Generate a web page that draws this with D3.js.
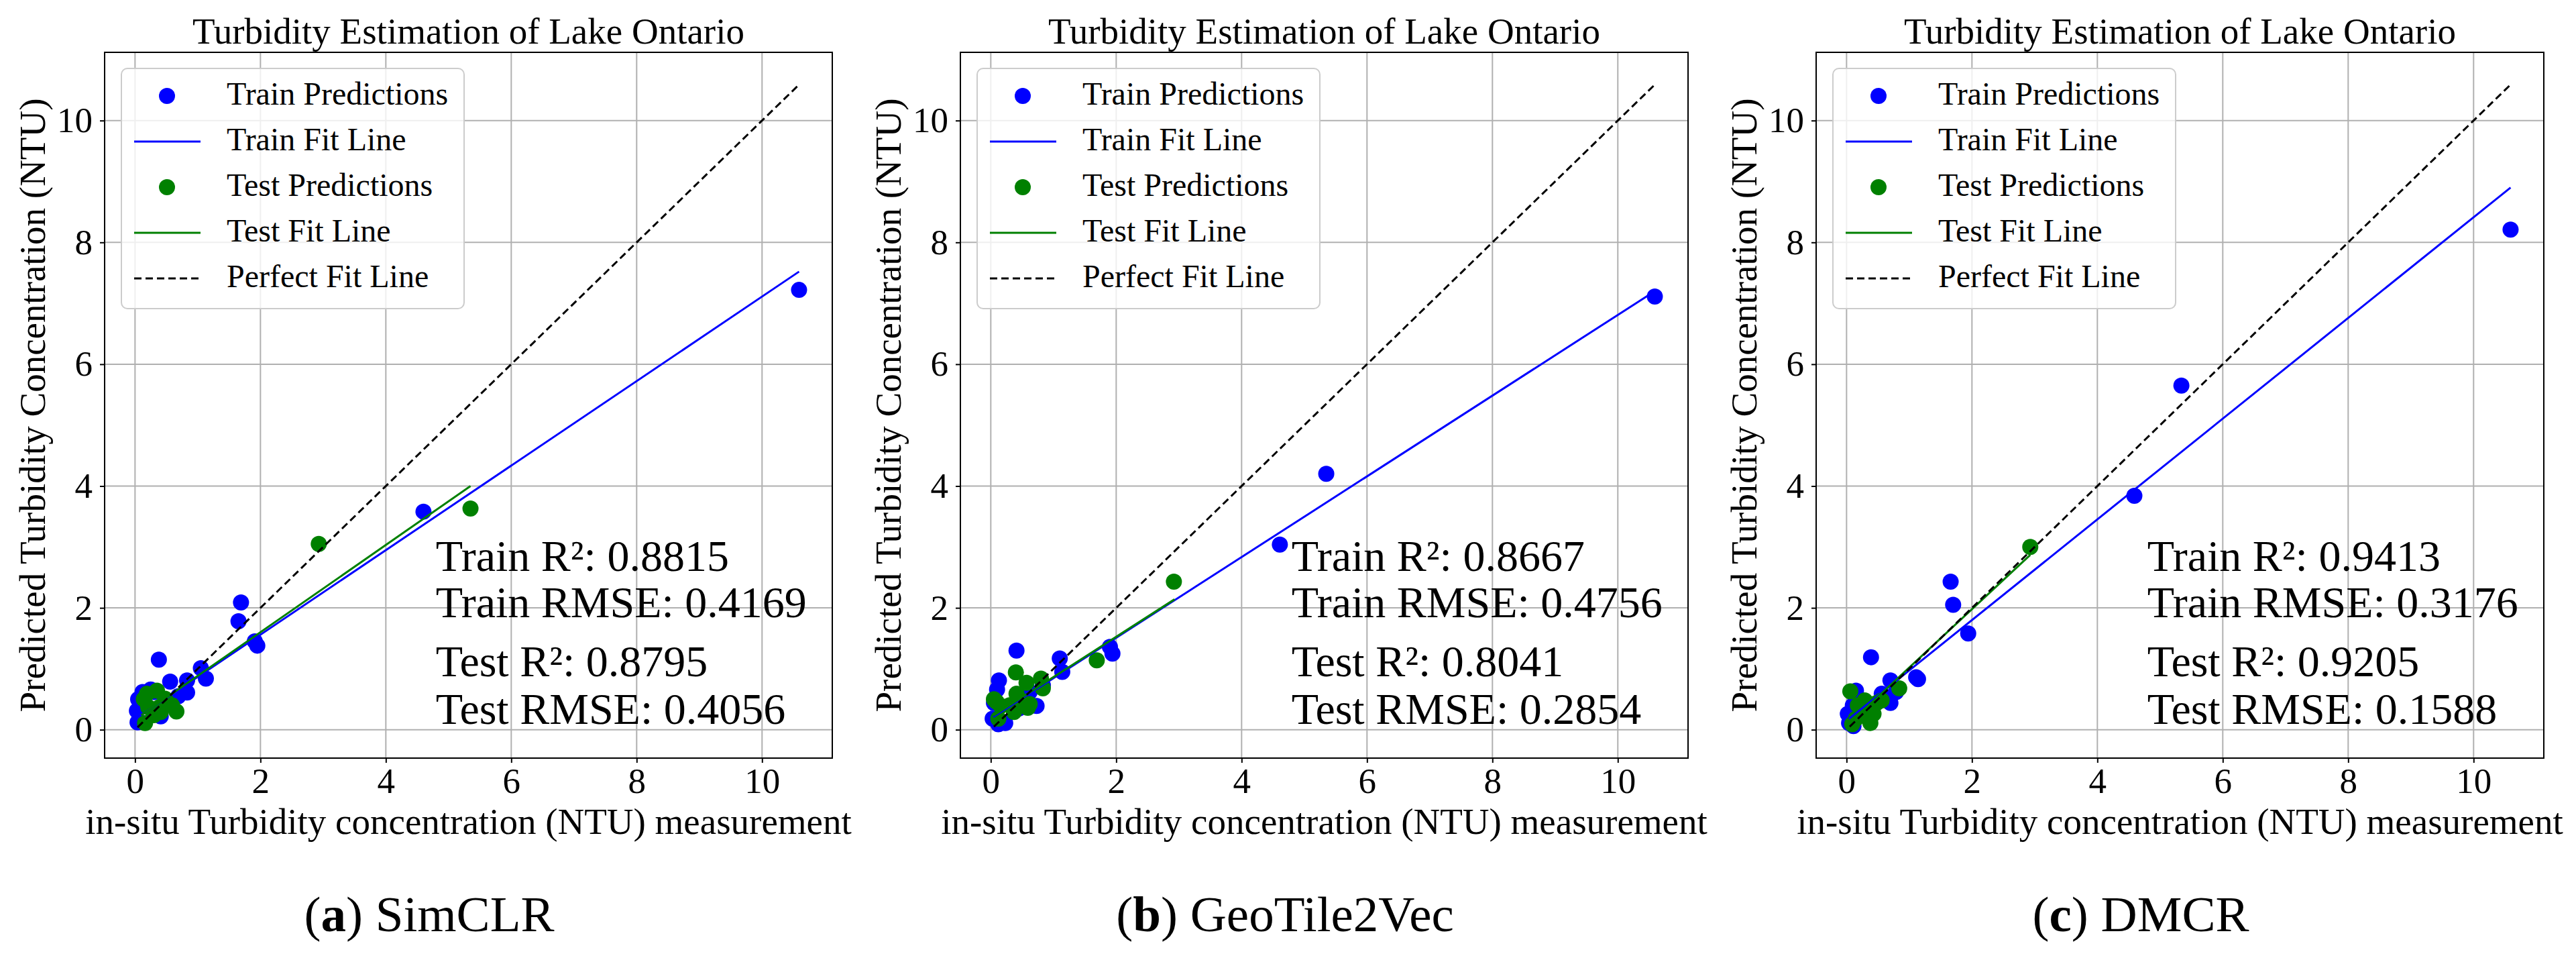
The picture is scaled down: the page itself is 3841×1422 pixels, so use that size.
<!DOCTYPE html>
<html>
<head>
<meta charset="utf-8">
<script src="https://cdn.jsdelivr.net/npm/d3@7"></script>
<style>
  body { margin: 0; background: #fff; }
  svg text { font-family: "Liberation Serif", "Times New Roman", serif !important; fill: #000; }
</style>
</head>
<body>
<script>
// ---- data ----
const xTicks = [0, 2, 4, 6, 8, 10];
const yTicks = [0, 2, 4, 6, 8, 10];
const panelTitle = "Turbidity Estimation of Lake Ontario";
const xLabel = "in-situ Turbidity concentration (NTU) measurement";
const yLabel = "Predicted Turbidity Concentration (NTU)";
const legendLabels = ["Train Predictions", "Train Fit Line", "Test Predictions", "Test Fit Line", "Perfect Fit Line"];
const captionLetters = ["a", "b", "c"];
const captionNames = ["SimCLR", "GeoTile2Vec", "DMCR"];

// (a) SimCLR
const trainXA = [0.03, 0.04, 0.05, 0.08, 0.12, 0.15, 0.25, 0.30, 0.38, 0.41, 0.56, 0.69, 0.83, 0.83, 1.05, 1.13, 1.65, 1.69, 1.91, 1.95, 4.60, 10.59];
const trainYA = [0.31, 0.12, 0.50, 0.40, 0.62, 0.55, 0.66, 0.62, 1.15, 0.22, 0.79, 0.55, 0.81, 0.61, 1.01, 0.84, 1.78, 2.09, 1.45, 1.38, 3.58, 7.22];
const testXA = [0.14, 0.16, 0.19, 0.21, 0.30, 0.35, 0.39, 0.41, 0.48, 0.59, 0.66, 2.93, 5.35];
const testYA = [0.50, 0.11, 0.59, 0.37, 0.24, 0.64, 0.37, 0.29, 0.51, 0.40, 0.30, 3.05, 3.63];
const trainFitA = [[0.04, 0.20], [10.59, 7.52]];
const testFitA = [[0.10, 0.24], [5.35, 4.00]];
const perfectA = [[0.04, 0.04], [10.59, 10.59]];
const statsA = ["0.8815", "0.4169", "0.8795", "0.4056"];

// (b) GeoTile2Vec
const trainXB = [0.03, 0.05, 0.10, 0.12, 0.13, 0.23, 0.41, 0.45, 0.62, 0.73, 0.83, 1.10, 1.14, 1.90, 1.94, 4.61, 5.35, 10.59];
const trainYB = [0.18, 0.44, 0.66, 0.09, 0.81, 0.11, 1.30, 0.35, 0.62, 0.39, 0.73, 1.17, 0.95, 1.36, 1.25, 3.04, 4.20, 7.11];
const testXB = [0.05, 0.09, 0.12, 0.16, 0.30, 0.37, 0.40, 0.41, 0.48, 0.57, 0.59, 0.62, 0.80, 0.83, 1.69, 2.92];
const testYB = [0.50, 0.46, 0.18, 0.39, 0.40, 0.29, 0.94, 0.59, 0.48, 0.77, 0.36, 0.42, 0.84, 0.68, 1.14, 2.43];
const trainFitB = [[0.04, 0.21], [10.59, 7.20]];
const testFitB = [[0.04, 0.23], [2.93, 2.14]];
const perfectB = [[0.05, 0.05], [10.59, 10.59]];
const statsB = ["0.8667", "0.4756", "0.8041", "0.2854"];

// (c) DMCR
const trainXC = [0.02, 0.04, 0.10, 0.11, 0.15, 0.39, 0.56, 0.70, 0.70, 0.79, 1.11, 1.14, 1.66, 1.70, 1.94, 4.59, 5.34, 10.59];
const trainYC = [0.26, 0.11, 0.40, 0.06, 0.64, 1.19, 0.59, 0.81, 0.44, 0.62, 0.86, 0.83, 2.43, 2.05, 1.58, 3.84, 5.65, 8.21];
const testXC = [0.06, 0.09, 0.15, 0.18, 0.25, 0.29, 0.38, 0.43, 0.48, 0.56, 0.84, 2.93];
const testYC = [0.63, 0.09, 0.18, 0.40, 0.26, 0.48, 0.11, 0.26, 0.44, 0.48, 0.68, 3.00];
const trainFitC = [[0.04, 0.18], [10.59, 8.90]];
const testFitC = [[0.06, 0.12], [2.93, 2.87]];
const perfectC = [[0.05, 0.05], [10.59, 10.59]];
const statsC = ["0.9413", "0.3176", "0.9205", "0.1588"];

const panels = [
  { trainX: trainXA, trainY: trainYA, testX: testXA, testY: testYA, trainFit: trainFitA, testFit: testFitA, perfect: perfectA, stats: statsA },
  { trainX: trainXB, trainY: trainYB, testX: testXB, testY: testYB, trainFit: trainFitB, testFit: testFitB, perfect: perfectB, stats: statsB },
  { trainX: trainXC, trainY: trainYC, testX: testXC, testY: testYC, trainFit: trainFitC, testFit: testFitC, perfect: perfectC, stats: statsC }
];

// ---- layout ----
var svgWidth = 3841;
var svgHeight = 1422;
var panelStep = 1276;
var margin = { top: 78, left: 156, right: 35, bottom: 292 };
var chartWidth = 1085;
var chartHeight = 1052;
var trainColor = "blue";
var testColor = "green";
var radius = 12;
var serif = '"Liberation Serif", "Times New Roman", serif';

var svg = d3.select("body")
  .append("svg")
  .attr("width", svgWidth)
  .attr("height", svgHeight)
  .attr("font-family", serif);

svg.append("rect").attr("width", svgWidth).attr("height", svgHeight).attr("fill", "#fff");

panels.forEach(function(p, k) {
  var ox = k * panelStep;
  var g = svg.append("g").attr("transform", `translate(${ox + margin.left}, ${margin.top})`);

  var x = d3.scaleLinear().domain([-0.485, 11.12]).range([0, chartWidth]);
  var y = d3.scaleLinear().domain([-0.466, 11.12]).range([chartHeight, 0]);

  // grid
  g.selectAll(".vgrid").data(xTicks).enter().append("line")
    .attr("x1", d => x(d)).attr("x2", d => x(d))
    .attr("y1", 0).attr("y2", chartHeight)
    .attr("stroke", "#b0b0b0").attr("stroke-width", 2);
  g.selectAll(".hgrid").data(yTicks).enter().append("line")
    .attr("y1", d => y(d)).attr("y2", d => y(d))
    .attr("x1", 0).attr("x2", chartWidth)
    .attr("stroke", "#b0b0b0").attr("stroke-width", 2);

  // points (scatter under the lines, like matplotlib)
  var trainPts = p.trainX.map((v, i) => [v, p.trainY[i]]);
  var testPts = p.testX.map((v, i) => [v, p.testY[i]]);
  g.selectAll(".train").data(trainPts).enter().append("circle")
    .attr("cx", d => x(d[0])).attr("cy", d => y(d[1])).attr("r", radius)
    .attr("fill", trainColor);
  g.selectAll(".test").data(testPts).enter().append("circle")
    .attr("cx", d => x(d[0])).attr("cy", d => y(d[1])).attr("r", radius)
    .attr("fill", testColor);

  var line = d3.line().x(d => x(d[0])).y(d => y(d[1]));
  g.append("path").attr("d", line(p.trainFit)).attr("fill", "none")
    .attr("stroke", trainColor).attr("stroke-width", 3);
  g.append("path").attr("d", line(p.testFit)).attr("fill", "none")
    .attr("stroke", testColor).attr("stroke-width", 3);
  g.append("path").attr("d", line(p.perfect)).attr("fill", "none")
    .attr("stroke", "#000").attr("stroke-width", 3).attr("stroke-dasharray", "11,6");

  // axes
  var bottomAxis = d3.axisBottom(x).tickValues(xTicks).tickSize(7).tickPadding(7).tickFormat(d3.format("d"));
  var leftAxis = d3.axisLeft(y).tickValues(yTicks).tickSize(7).tickPadding(11).tickFormat(d3.format("d"));
  var xa = g.append("g").attr("transform", `translate(0, ${chartHeight})`).call(bottomAxis);
  var ya = g.append("g").call(leftAxis);
  [xa, ya].forEach(a => {
    a.attr("font-family", serif);
    a.select(".domain").remove();
    a.selectAll(".tick line").attr("stroke", "#000").attr("stroke-width", 2);
    a.selectAll(".tick text").style("font-size", "53px").style("font-family", serif).attr("fill", "#000");
  });

  g.append("rect").attr("width", chartWidth).attr("height", chartHeight)
    .attr("fill", "none").attr("stroke", "#000").attr("stroke-width", 2);

  // legend
  var lg = g.append("g").attr("transform", "translate(25, 24)");
  lg.append("rect").attr("width", 511).attr("height", 358).attr("rx", 9)
    .attr("fill", "#fff").attr("fill-opacity", 0.8)
    .attr("stroke", "#cccccc").attr("stroke-width", 2);
  var rows = [41, 109, 177, 245, 313];
  legendLabels.forEach(function(lab, i) {
    var cy = rows[i];
    if (i === 0 || i === 2) {
      lg.append("circle").attr("cx", 68).attr("cy", cy).attr("r", radius)
        .attr("fill", i === 0 ? trainColor : testColor);
    } else {
      lg.append("line").attr("x1", 19).attr("x2", 118).attr("y1", cy).attr("y2", cy)
        .attr("stroke", i === 1 ? trainColor : (i === 3 ? testColor : "#000"))
        .attr("stroke-width", 3)
        .attr("stroke-dasharray", i === 4 ? "11,6" : null);
    }
    lg.append("text").attr("x", 157).attr("y", cy + 12.5)
      .style("font-size", "48px").style("font-family", serif).text(lab);
  });

  // stats
  var sx = 0.455 * chartWidth;
  var statLines = [
    ["Train R²: ", p.stats[0], 851],
    ["Train RMSE: ", p.stats[1], 920],
    ["Test R²: ", p.stats[2], 1008],
    ["Test RMSE: ", p.stats[3], 1079]
  ];
  statLines.forEach(s => {
    g.append("text").attr("x", sx).attr("y", s[2] - margin.top)
      .style("font-size", "66px").style("font-family", serif).text(s[0] + s[1]);
  });

  // titles
  g.append("text").attr("x", chartWidth / 2).attr("y", 65 - margin.top)
    .attr("text-anchor", "middle").style("font-size", "55px").style("font-family", serif).text(panelTitle);
  g.append("text").attr("x", chartWidth / 2).attr("y", 1243 - margin.top)
    .attr("text-anchor", "middle").style("font-size", "55px").style("font-family", serif).text(xLabel);
  g.append("text")
    .attr("transform", `translate(${67 - margin.left}, ${chartHeight / 2}) rotate(-90)`)
    .attr("text-anchor", "middle").style("font-size", "55px").style("font-family", serif).text(yLabel);

  // caption
  var cap = svg.append("text").attr("x", ox + 640).attr("y", 1388)
    .attr("text-anchor", "middle").style("font-size", "75px").style("font-family", serif);
  cap.append("tspan").text("(");
  cap.append("tspan").style("font-weight", "bold").text(captionLetters[k]);
  cap.append("tspan").text(") " + captionNames[k]);
});
</script>
</body>
</html>
